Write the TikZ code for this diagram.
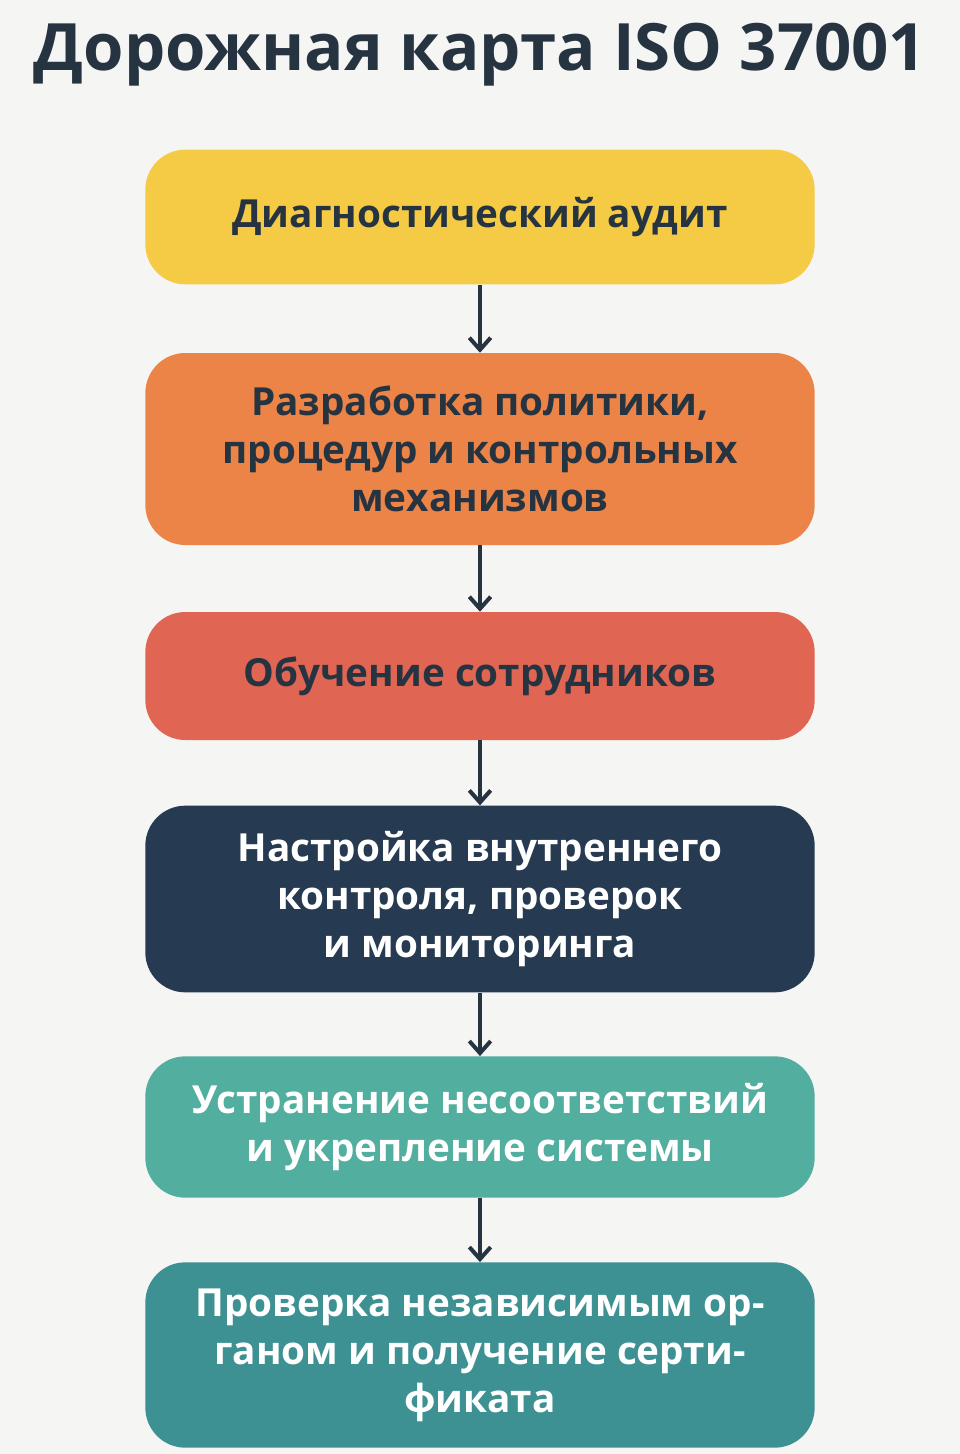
\documentclass[tikz,border=0pt]{standalone}
\usepackage{fontspec}
\setmainfont{Open Sans}
\usetikzlibrary{arrows.meta}
\definecolor{bg}{HTML}{F5F5F4}
\definecolor{ink}{HTML}{263340}
\definecolor{cYellow}{HTML}{F5CB45}
\definecolor{cOrange}{HTML}{EC8448}
\definecolor{cRed}{HTML}{E06552}
\definecolor{cNavy}{HTML}{263A52}
\definecolor{cTeal}{HTML}{52AE9E}
\definecolor{cDeep}{HTML}{3E9192}
\begin{document}
\begin{tikzpicture}[x=0.75pt, y=-0.75pt,
    phase/.style={rounded corners=30pt, minimum width=502pt, align=center,
      font=\fontsize{29}{36}\selectfont\bfseries, inner sep=0pt},
    flow/.style={-{Straight Barb[length=9pt, width=16pt]}, line width=3pt, draw=ink}]
  \fill[bg] (0,0) rectangle (960,1454);
  \useasboundingbox (0,0) rectangle (960,1454);
  \node[text=ink, font=\fontsize{49}{56}\selectfont\bfseries] (title) at (480,55) {Дорожная карта ISO 37001};
  \begin{scope}[every node/.append style={phase}]
    \node[fill=cYellow, text=ink, minimum height=101pt] (s1) at (480,217) {Диагностический аудит};
    \node[fill=cOrange, text=ink, minimum height=144pt] (s2) at (480,449) {Разработка политики,\\процедур и контрольных\\механизмов};
    \node[fill=cRed, text=ink, minimum height=96pt] (s3) at (480,676) {Обучение сотрудников};
    \node[fill=cNavy, text=white, minimum height=140pt] (s4) at (480,899) {Настройка внутреннего\\контроля, проверок\\и мониторинга};
    \node[fill=cTeal, text=white, minimum height=106pt] (s5) at (480,1127) {Устранение несоответствий\\и укрепление системы};
    \node[fill=cDeep, text=white, minimum height=139pt] (s6) at (480,1355) {Проверка независимым ор-\\ганом и получение серти-\\фиката};
  \end{scope}
  \foreach \a/\b in {s1/s2, s2/s3, s3/s4, s4/s5, s5/s6}
    \draw[flow] (\a.south) -- (\b.north);
\end{tikzpicture}
\end{document}
